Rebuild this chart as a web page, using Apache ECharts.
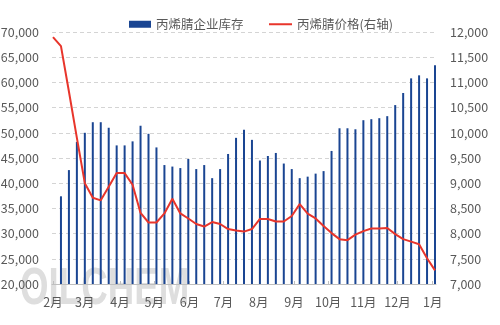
<!DOCTYPE html>
<html>
<head>
<meta charset="utf-8">
<script src="https://cdn.jsdelivr.net/npm/echarts@6/dist/echarts.min.js"></script>
<style>
  html, body { margin: 0; padding: 0; background: #fff; }
  #chart { width: 500px; height: 325px; }
</style>
</head>
<body>
<div id="chart"></div>
<script>
// Weekly observation dates
const weeks = [
  '2023-02-01','2023-02-08','2023-02-15','2023-02-22','2023-03-01','2023-03-08','2023-03-15',
  '2023-03-22','2023-03-29','2023-04-05','2023-04-12','2023-04-19','2023-04-26','2023-05-03',
  '2023-05-10','2023-05-17','2023-05-24','2023-05-31','2023-06-07','2023-06-14','2023-06-21',
  '2023-06-28','2023-07-05','2023-07-12','2023-07-19','2023-07-26','2023-08-02','2023-08-09',
  '2023-08-16','2023-08-23','2023-08-30','2023-09-06','2023-09-13','2023-09-20','2023-09-27',
  '2023-10-04','2023-10-11','2023-10-18','2023-10-25','2023-11-01','2023-11-08','2023-11-15',
  '2023-11-22','2023-11-29','2023-12-06','2023-12-13','2023-12-20','2023-12-27','2024-01-03'
];

// 丙烯腈企业库存 (吨) — no reading in the first week
const inventory = [
  null, 37400, 42600, 48200, 50000, 52100, 52100, 51000, 47500, 47500,
  48300, 51400, 49800, 47100, 43600, 43300, 43000, 44800, 42800, 43600,
  41000, 42800, 45800, 49000, 50600, 48600, 44500, 45400, 46000, 43900,
  42800, 41000, 41300, 41900, 42400, 46400, 50900, 50900, 50700, 52500,
  52700, 52900, 53300, 55500, 57900, 60800, 61400, 60800, 63400
];

// 丙烯腈价格 (元/吨, 右轴)
const price = [
  11900, 11720, 10820, 9900, 9000, 8710, 8660, 8930, 9200, 9200,
  8970, 8410, 8220, 8220, 8400, 8690, 8400, 8300, 8190, 8140,
  8230, 8190, 8090, 8060, 8040, 8090, 8290, 8290, 8240, 8240,
  8350, 8585, 8395, 8300, 8150, 8010, 7890, 7870, 7980, 8050,
  8100, 8100, 8110, 7990, 7890, 7840, 7790, 7510, 7270
];

const seriesNames = ['丙烯腈企业库存', '丙烯腈价格(右轴)'];
const leftTicks = { min: 20000, max: 70000, interval: 5000 };
const rightTicks = { min: 7000, max: 12000, interval: 500 };

const FONT = 'Noto Sans CJK SC';
const FS = 12.5;
const TEXT = '#595959';
const BAR = '#1a4592';
const LINE = '#e8352b';

const chart = echarts.init(document.getElementById('chart'), null, { renderer: 'canvas' });

const legendText = { fontSize: FS, color: TEXT, fontFamily: FONT };

chart.setOption({
  animation: false,
  backgroundColor: '#ffffff',
  textStyle: { fontFamily: FONT, color: TEXT },
  // faint brand watermark behind the plot
  graphic: [{
    type: 'text',
    x: 20, y: 264,
    scaleX: 0.72,
    z: -10,
    style: {
      text: 'OILCHEM',
      font: 'bold 51px "Liberation Sans"',
      fill: '#dedede',
      textVerticalAlign: 'top'
    }
  }],
  legend: [
    {
      top: 13, left: 124,
      itemWidth: 22, itemHeight: 7,
      textStyle: legendText,
      data: [{ name: seriesNames[0], icon: 'rect' }]
    },
    {
      top: 13, left: 264,
      itemWidth: 23, itemHeight: 2,
      textStyle: legendText,
      data: [{ name: seriesNames[1], icon: 'rect' }]
    }
  ],
  grid: { left: 52, right: 64, top: 32, bottom: 41, outerBoundsMode: 'none' },
  xAxis: {
    type: 'time',
    min: 'dataMin',
    max: 'dataMax',
    splitNumber: 11,
    minInterval: 28 * 86400000,
    maxInterval: 31 * 86400000,
    axisLine: { lineStyle: { color: '#bfbfbf', width: 1 } },
    axisTick: { show: true, inside: true, length: 3, lineStyle: { color: '#bfbfbf' } },
    axisLabel: {
      fontSize: FS, color: TEXT, fontFamily: FONT, margin: 12,
      formatter: function (val) { return (new Date(val).getMonth() + 1) + '月'; }
    },
    splitLine: { show: false }
  },
  yAxis: [
    {
      type: 'value',
      min: leftTicks.min, max: leftTicks.max, interval: leftTicks.interval,
      axisLine: { show: false },
      axisTick: { show: false },
      axisLabel: { fontSize: FS, color: TEXT, fontFamily: FONT, margin: 13 },
      splitLine: { show: true, lineStyle: { color: '#d4d4d4', type: [4, 3], width: 1 } }
    },
    {
      type: 'value',
      min: rightTicks.min, max: rightTicks.max, interval: rightTicks.interval,
      axisLine: { show: false },
      axisTick: { show: false },
      axisLabel: { fontSize: FS, color: TEXT, fontFamily: FONT, margin: 14 },
      splitLine: { show: false }
    }
  ],
  series: [
    {
      name: seriesNames[0],
      type: 'bar',
      yAxisIndex: 0,
      barWidth: 2,
      itemStyle: { color: BAR },
      data: weeks.map((d, i) => [d, inventory[i]])
    },
    {
      name: seriesNames[1],
      type: 'line',
      yAxisIndex: 1,
      symbol: 'none',
      lineStyle: { color: LINE, width: 2 },
      itemStyle: { color: LINE },
      data: weeks.map((d, i) => [d, price[i]])
    }
  ]
});
</script>
</body>
</html>
